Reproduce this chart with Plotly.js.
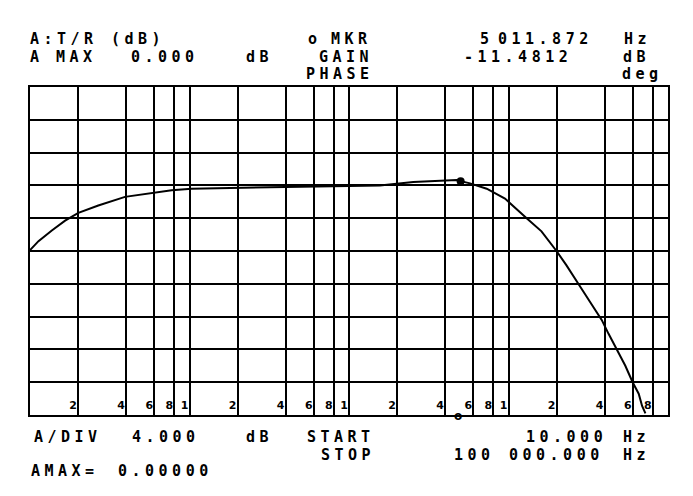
<!DOCTYPE html>
<html>
<head>
<meta charset="utf-8">
<script src="https://cdn.plot.ly/plotly-3.0.1.min.js"></script>
<style>
  html, body { margin: 0; padding: 0; background: #fff; }
  #chart { width: 693px; height: 496px; }
  .annotation-text { letter-spacing: 4.5px; }
</style>
</head>
<body>
<div id="chart"></div>
<script>
// ---- data ----
var freqHz = [10, 11.3, 13.7, 16.6, 20.1, 26.8, 39.4, 57.9, 77.3, 103, 239, 657, 1563, 2530, 3720, 4730, 5012, 5740, 7300, 9500, 13000, 16100, 20000, 23100, 27400, 32500, 38400, 42400, 47800, 54000, 60000, 65500, 68800, 72200];
var gainDb = [-19.9, -18.8, -17.5, -16.3, -15.35, -14.45, -13.4, -12.95, -12.6, -12.4, -12.25, -12.15, -12.0, -11.6, -11.4, -11.35, -11.48, -11.75, -12.4, -13.6, -16.0, -17.6, -20.0, -21.75, -24.0, -26.2, -28.4, -30.1, -32.0, -34.0, -36.0, -37.4, -38.9, -39.8];
var markerFreq = [5011.872];
var markerGain = [-11.4812];
var tickFreqs = [20, 40, 60, 80, 100, 200, 400, 600, 800, 1000, 2000, 4000, 6000, 8000, 10000, 20000, 40000, 60000, 80000];
var tickLabels = ["2", "4", "6", "8", "1", "2", "4", "6", "8", "1", "2", "4", "6", "8", "1", "2", "4", "6", "8"];
var yMax = 0, yDiv = 4, yDivs = 10;

// ---- header / footer texts: [text, left px, center y px] ----
var W = 693, H = 496, L = 30, R = 25, T = 87, B = 81;
var texts = [
  ["A:", 29, 39], ["T/R", 56, 39], ["(dB)", 110, 39],
  ["o", 307, 39], ["MKR", 330, 39],
  ["5", 479, 39], ["011.872", 497, 39], ["Hz", 623, 39],
  ["A", 29, 57], ["MAX", 55, 57], ["0.000", 130, 57], ["dB", 245, 57],
  ["GAIN", 318, 57], ["-11.4812", 463, 57], ["dB", 622, 57],
  ["PHASE", 305, 74], ["deg", 621, 74],
  ["A/DIV", 33, 437], ["4.000", 131, 437], ["dB", 245, 437], ["START", 306, 437],
  ["10.000", 525, 437], ["Hz", 622, 437],
  ["STOP", 320, 455], ["100", 453, 455], ["000.000", 508, 455], ["Hz", 622, 455],
  ["AMAX=", 30, 471], ["0.00000", 117, 471]
];
var pw = W - L - R, ph = H - T - B;
var annotations = texts.map(function (t) {
  return {
    text: t[0], xref: 'paper', yref: 'paper',
    x: (t[1] - L) / pw, y: (H - B - t[2]) / ph,
    xanchor: 'left', yanchor: 'middle', showarrow: false, borderpad: 0,
    font: {family: 'DejaVu Sans Mono', size: 15, color: '#000', weight: 'bold'}
  };
});
// small marker indicator on the frequency axis
annotations.push({
  text: 'o', xref: 'x', yref: 'y',
  x: Math.log10(markerFreq[0]), y: yMax - yDiv * yDivs,
  xanchor: 'center', yanchor: 'middle', yshift: -1, showarrow: false, borderpad: 0,
  font: {family: 'DejaVu Sans', size: 12, color: '#000', weight: 'bold'}
});

var traces = [
  {x: freqHz, y: gainDb, type: 'scatter', mode: 'lines',
   line: {color: '#000', width: 2}, hoverinfo: 'skip'},
  {x: markerFreq, y: markerGain, type: 'scatter', mode: 'markers',
   marker: {color: '#000', size: 8, symbol: 'circle'}, hoverinfo: 'skip'}
];

var layout = {
  width: W, height: H,
  margin: {l: L, r: R, t: T, b: B, pad: 0},
  paper_bgcolor: '#fff', plot_bgcolor: '#fff',
  showlegend: false,
  xaxis: {
    type: 'log', range: [1, 5],
    tickmode: 'array', tickvals: tickFreqs, ticktext: tickLabels,
    ticks: '', ticklabelposition: 'inside left', tickangle: 0,
    tickfont: {family: 'DejaVu Sans', size: 11, color: '#000', weight: 'bold'},
    showgrid: true, gridcolor: '#000', gridwidth: 2,
    showline: true, linecolor: '#000', linewidth: 2, mirror: true,
    zeroline: false, fixedrange: true
  },
  yaxis: {
    range: [yMax - yDiv * yDivs, yMax], dtick: yDiv, tick0: yMax,
    showticklabels: false, ticks: '',
    showgrid: true, gridcolor: '#000', gridwidth: 2,
    showline: true, linecolor: '#000', linewidth: 2, mirror: true,
    zeroline: false, fixedrange: true
  },
  annotations: annotations
};

Plotly.newPlot('chart', traces, layout, {staticPlot: true, displayModeBar: false});
</script>
</body>
</html>
